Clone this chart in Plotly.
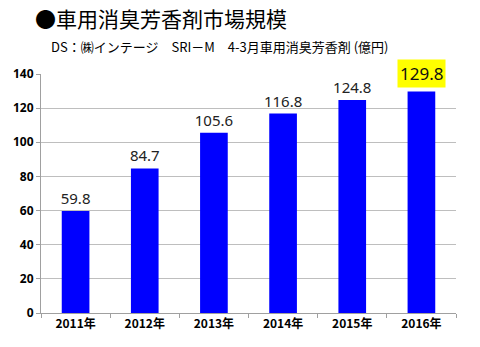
import plotly.graph_objects as go

years = ["2011年", "2012年", "2013年", "2014年", "2015年", "2016年"]
values = [59.8, 84.7, 105.6, 116.8, 124.8, 129.8]
labels = ["59.8", "84.7", "105.6", "116.8", "124.8", ""]
highlight_label = "129.8"
y_ticks = [0, 20, 40, 60, 80, 100, 120, 140]

fig = go.Figure()
fig.add_trace(go.Bar(
    x=years, y=values,
    marker=dict(color="#0000FF", line=dict(width=0)),
    text=labels, textposition="outside", constraintext="none",
    textfont=dict(family="Noto Sans, DejaVu Sans, sans-serif", size=15, color="#222222"),
    cliponaxis=False,
))

fig.add_annotation(
    x=years[-1], y=values[-1], text=highlight_label,
    showarrow=False, yanchor="bottom", yshift=3,
    bgcolor="#FFFF00", borderpad=2,
    font=dict(family="Noto Sans, DejaVu Sans, sans-serif", size=17, color="#111111"),
)

fig.add_annotation(
    xref="paper", yref="paper", x=-0.02, y=1.234, xanchor="left", yanchor="middle",
    text="●車用消臭芳香剤市場規模", showarrow=False,
    font=dict(family="Noto Sans CJK JP", size=21, color="#000000"),
)
fig.add_annotation(
    xref="paper", yref="paper", x=0.02, y=1.113, xanchor="left", yanchor="middle",
    text="DS：㈱インテージ　SRI－M　4-3月車用消臭芳香剤 (億円)", showarrow=False,
    font=dict(family="Noto Sans CJK JP", size=13, color="#000000"),
)

fig.update_layout(
    width=480, height=347,
    margin=dict(l=41, r=24, t=74, b=34),
    paper_bgcolor="white", plot_bgcolor="white",
    bargap=0.6, showlegend=False,
    font=dict(family="Noto Sans, DejaVu Sans, sans-serif"),
)
fig.update_xaxes(
    showline=True, linecolor="#A0A0A0", linewidth=1,
    ticks="outside", ticklen=4, tickcolor="#A0A0A0", tickson="boundaries",
    tickfont=dict(size=12, color="#000000", family="Noto Sans CJK JP", weight="bold"),
)
fig.update_yaxes(
    range=[0, 140], tickvals=y_ticks,
    showgrid=True, gridcolor="#BEBEBE", gridwidth=1,
    showline=True, linecolor="#A0A0A0", linewidth=1,
    ticks="outside", ticklen=4, tickcolor="#A0A0A0",
    tickfont=dict(size=12, color="#000000", weight="bold"),
    zeroline=False,
)

fig.write_html("out.html")
